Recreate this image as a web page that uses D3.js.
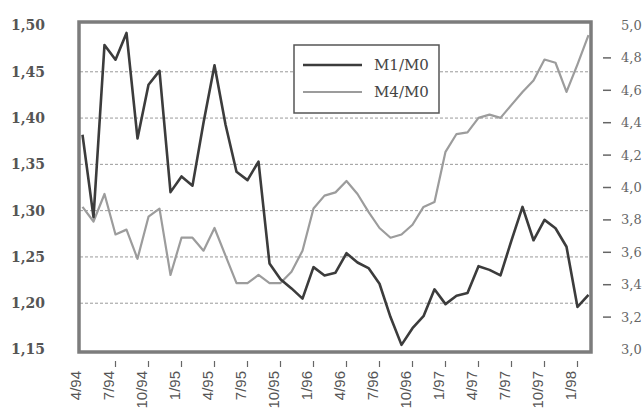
<!DOCTYPE html>
<html><head><meta charset="utf-8">
<script src="https://cdn.jsdelivr.net/npm/d3@7"></script>
<style>body{margin:0;background:#fff} svg{display:block}</style>
</head><body>
<svg id="c" width="644" height="410"></svg>
<script>
const months = ["4/94","5/94","6/94","7/94","8/94","9/94","10/94","11/94","12/94",
  "1/95","2/95","3/95","4/95","5/95","6/95","7/95","8/95","9/95","10/95","11/95","12/95",
  "1/96","2/96","3/96","4/96","5/96","6/96","7/96","8/96","9/96","10/96","11/96","12/96",
  "1/97","2/97","3/97","4/97","5/97","6/97","7/97","8/97","9/97","10/97","11/97","12/97",
  "1/98","2/98"];
const m1m0 = [1.382,1.293,1.479,1.463,1.492,1.378,1.436,1.451,1.320,1.337,1.327,1.395,1.457,1.393,1.342,1.333,1.353,1.243,1.226,1.216,1.205,1.239,1.230,1.233,1.254,1.244,1.238,1.221,1.185,1.155,1.173,1.186,1.215,1.199,1.208,1.211,1.240,1.236,1.230,1.268,1.304,1.268,1.290,1.281,1.261,1.196,1.209];
const m4m0 = [3.88,3.79,3.96,3.71,3.74,3.56,3.82,3.87,3.46,3.69,3.69,3.61,3.75,3.58,3.41,3.41,3.46,3.41,3.41,3.48,3.61,3.87,3.95,3.97,4.04,3.96,3.85,3.75,3.69,3.71,3.77,3.88,3.91,4.22,4.33,4.34,4.43,4.45,4.43,4.51,4.59,4.66,4.79,4.77,4.59,4.76,4.94];
const leftTicks = [1.15,1.20,1.25,1.30,1.35,1.40,1.45,1.50];
const rightTicks = [3.0,3.2,3.4,3.6,3.8,4.0,4.2,4.4,4.6,4.8,5.0];
const gridValues = [1.20,1.25,1.30,1.35,1.40,1.45];
const xTickLabels = ["4/94","7/94","10/94","1/95","4/95","7/95","10/95","1/96","4/96","7/96","10/96","1/97","4/97","7/97","10/97","1/98"];
const seriesNames = ["M1/M0","M4/M0"];

const svg = d3.select("#c");
const x = d3.scalePoint().domain(months).range([82.5, 588.5]);
const yL = d3.scaleLinear().domain([1.15, 1.50]).range([349.5, 25.5]);
const yR = d3.scaleLinear().domain([3.0, 5.0]).range([349.5, 25.5]);
const fmt = d3.format(".2f"), fmtR = d3.format(".1f");
const comma = s => s.replace(".", ",");
const serif = "'DejaVu Serif', 'Liberation Serif', serif";

// gridlines
svg.append("g").selectAll("line").data(gridValues).join("line")
  .attr("x1", 80).attr("x2", 590)
  .attr("y1", d => yL(d)).attr("y2", d => yL(d))
  .attr("stroke", "#9a9a9a").attr("stroke-width", 1).attr("stroke-dasharray", "3,2");

// lines
const lineL = d3.line().x((d, i) => x(months[i])).y(d => yL(d));
const lineR = d3.line().x((d, i) => x(months[i])).y(d => yR(d));
svg.append("path").attr("d", lineR(m4m0)).attr("fill", "none")
  .attr("stroke", "#9c9c9c").attr("stroke-width", 2.2).attr("stroke-linejoin", "round");
svg.append("path").attr("d", lineL(m1m0)).attr("fill", "none")
  .attr("stroke", "#3c3c3c").attr("stroke-width", 2.6).attr("stroke-linejoin", "round");

// frame
svg.append("rect").attr("x", 79).attr("y", 22).attr("width", 512).attr("height", 330)
  .attr("fill", "none").attr("stroke", "#7c7c7c").attr("stroke-width", 3.5);

// legend
const lg = svg.append("g");
lg.append("rect").attr("x", 294).attr("y", 45).attr("width", 145).attr("height", 68)
  .attr("fill", "#fff").attr("stroke", "#555").attr("stroke-width", 1.5);
const legendItems = [{name: seriesNames[0], color: "#3c3c3c", w: 2.6, y: 65},
                     {name: seriesNames[1], color: "#9c9c9c", w: 2.2, y: 92}];
legendItems.forEach(it => {
  lg.append("line").attr("x1", 303).attr("x2", 362).attr("y1", it.y).attr("y2", it.y)
    .attr("stroke", it.color).attr("stroke-width", it.w);
  lg.append("text").attr("x", 374).attr("y", it.y).attr("dy", "0.35em")
    .attr("font-family", serif).attr("font-size", 15).attr("fill", "#444").text(it.name);
});

// left axis labels
svg.append("g").selectAll("text").data(leftTicks).join("text")
  .attr("x", 45).attr("y", d => yL(d)).attr("dy", "0.35em").attr("text-anchor", "end")
  .attr("font-family", serif).attr("font-size", 14).attr("font-weight", "bold").attr("fill", "#555")
  .text(d => comma(fmt(d)));

// right axis
svg.append("g").selectAll("line").data(rightTicks.slice(1, -1)).join("line")
  .attr("x1", 603).attr("x2", 611).attr("y1", d => yR(d)).attr("y2", d => yR(d))
  .attr("stroke", "#666").attr("stroke-width", 1.5);
svg.append("g").selectAll("text").data(rightTicks).join("text")
  .attr("x", 621).attr("y", d => yR(d)).attr("dy", "0.35em")
  .attr("font-family", serif).attr("font-size", 13).attr("fill", "#666")
  .text(d => comma(fmtR(d)));

// bottom axis
svg.append("g").selectAll("line").data(xTickLabels.slice(1)).join("line")
  .attr("x1", d => x(d)).attr("x2", d => x(d)).attr("y1", 361).attr("y2", 367)
  .attr("stroke", "#666").attr("stroke-width", 1.2);
svg.append("g").selectAll("text").data(xTickLabels).join("text")
  .attr("transform", d => `translate(${x(d) - 2},371) rotate(-90)`)
  .attr("text-anchor", "end")
  .attr("font-family", "'Liberation Sans', Arial, sans-serif")
  .attr("font-size", 15).attr("fill", "#555")
  .text(d => d);
</script>
</body></html>
